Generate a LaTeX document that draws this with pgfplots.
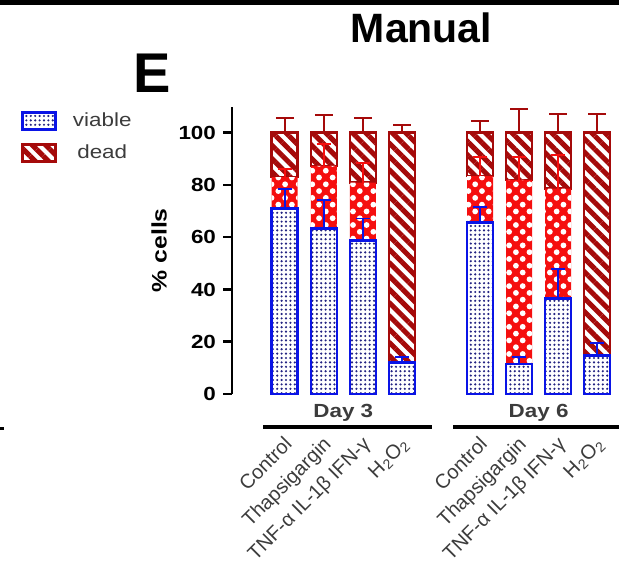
\documentclass[border=0pt]{standalone}
\usepackage{fontspec}
\setmainfont{Liberation Sans}
\newfontfamily\wide{Liberation Sans}[FakeStretch=1.18]
\usepackage{pgfplots}
\pgfplotsset{compat=1.18}
\usetikzlibrary{patterns.meta}
\definecolor{viaBlue}{RGB}{10,20,230}
\definecolor{dotBlue}{RGB}{35,35,130}
\definecolor{apoRed}{RGB}{245,15,15}
\definecolor{deadRed}{RGB}{165,10,10}
\definecolor{lblGray}{RGB}{60,60,60}

\pgfplotsset{
  panel/.style={
    x=19.53pt, y=1.3065pt,
    xmin=-1.35, xmax=8.56, ymin=0, ymax=110,
    at={(116pt,92pt)}, anchor=south west,
    clip=false,
  },
  viable/.style={draw=viaBlue, line width=1.25pt,
    pattern={Dots[distance=2.2pt, radius=0.6pt]}, pattern color=dotBlue},
  apo/.style={fill=apoRed, draw=none,
    postaction={pattern={Dots[distance=4.8pt, radius=1.45pt, angle=45]}, pattern color=white}},
  dead/.style={draw=deadRed, line width=1.25pt,
    pattern={Lines[angle=-45, distance=4.7pt, line width=2.5pt]}, pattern color=deadRed},
}

\begin{document}
\begin{tikzpicture}
\path[use as bounding box] (0,0) rectangle (309.5pt,289pt);
\fill[black] (0,286.5pt) rectangle (309.5pt,289pt);
\draw[black, line width=1.5pt] (0,75pt) -- (2pt,75pt);
\node[font=\bfseries\fontsize{28}{30}\selectfont] at (76pt,252.5pt) {E};
\node[font=\bfseries\fontsize{20.5}{24}\selectfont] at (210.75pt,275pt) {Manual};

% stacked bars: viable, apoptotic, dead
\begin{axis}[panel,
  ybar stacked, bar width=13pt,
  axis y line*=left, axis x line*=bottom,
  x axis line style={draw=none},
  y axis line style={line width=1.25pt},
  tick align=outside,
  major tick length=4.5pt,
  ytick={0,20,...,100},
  ytick style={line width=1.25pt, black},
  xtick style={draw=none},
  /pgf/number format/assume math mode=true,
  yticklabel style={font=\wide\bfseries\fontsize{9.5}{12}\selectfont},
  xtick={0,1,2,3,5,6,7,8},
  xticklabels={Control,Thapsigargin,TNF-α IL-1β IFN-γ,H\textsubscript{2}O\textsubscript{2},
               Control,Thapsigargin,TNF-α IL-1β IFN-γ,H\textsubscript{2}O\textsubscript{2}},
  xticklabel style={rotate=45, anchor=north east, inner sep=0pt,
    font=\fontsize{10}{11}\selectfont, text=lblGray, xshift=-12pt, yshift=-10.6pt},
  ylabel={\% cells},
  ylabel style={font=\wide\bfseries\fontsize{10.5}{13}\selectfont,
    at={(axis description cs:-0.15,0.5)}, anchor=south},
]
\addplot[viable] coordinates {
  (0,71.0) (1,63.4) (2,58.7) (3,12.1) (5,65.7) (6,11.4) (7,36.6) (8,14.7)};
\addplot[apo] coordinates {
  (0,12.0) (1,23.9) (2,22.2) (3,0) (5,17.7) (6,70.5) (7,42.0) (8,0)};
\addplot[dead] coordinates {
  (0,17.0) (1,12.7) (2,19.1) (3,87.9) (5,16.6) (6,18.1) (7,21.4) (8,85.3)};

\draw[line width=2pt] (axis cs:-0.556,-12.6) -- (axis cs:3.77,-12.6);
\draw[line width=2pt] (axis cs:4.31,-12.6) -- (axis cs:8.8,-12.6);
\node[font=\wide\bfseries\fontsize{9.5}{12}\selectfont, text=lblGray] at (axis cs:1.5,-7.3) {Day 3};
\node[font=\wide\bfseries\fontsize{9.5}{12}\selectfont, text=lblGray] at (axis cs:6.5,-7.3) {Day 6};
\end{axis}

% error bars at the stacked tops, and the legend
\begin{axis}[panel, hide axis,
  legend style={at={(axis description cs:-0.545,0.995)}, anchor=north west,
    draw=none, fill=none, inner sep=0pt, row sep=3.7pt,
    /tikz/every odd column/.append style={column sep=6pt},
    font=\wide\fontsize{9.5}{12}\selectfont, text=lblGray},
  legend image code/.code={\draw[#1] (0pt,-4.25pt) rectangle (16.5pt,4.25pt);},
]
\addlegendimage{viable}
\addlegendentry{viable}
\addlegendimage{dead}
\addlegendentry{dead}

\addplot[draw=none, forget plot, error bars/.cd, y dir=plus, y explicit,
  error bar style={draw=viaBlue, line width=0.9pt},
  error mark options={rotate=90, draw=viaBlue, line width=0.9pt, mark size=3.6pt}]
coordinates {
  (0,71.0) +- (0,7.4) (1,63.4) +- (0,10.7) (2,58.7) +- (0,8.5) (3,12.1) +- (0,2.2)
  (5,65.7) +- (0,6.0) (6,11.4) +- (0,2.9) (7,36.6) +- (0,11.2) (8,14.7) +- (0,4.7)};
\addplot[draw=none, forget plot, error bars/.cd, y dir=plus, y explicit,
  error bar style={draw=apoRed, line width=0.9pt},
  error mark options={rotate=90, draw=apoRed, line width=0.9pt, mark size=3.6pt}]
coordinates {
  (0,83.0) +- (0,3.0) (1,87.3) +- (0,8.3) (2,80.9) +- (0,7.6)
  (5,83.4) +- (0,7.4) (6,81.9) +- (0,8.9) (7,78.6) +- (0,12.9)};
\addplot[draw=none, forget plot, error bars/.cd, y dir=plus, y explicit,
  error bar style={draw=deadRed, line width=1pt},
  error mark options={rotate=90, draw=deadRed, line width=1pt, mark size=4.4pt}]
coordinates {
  (0,100) +- (0,5.5) (1,100) +- (0,6.8) (2,100) +- (0,5.5) (3,100) +- (0,3.0)
  (5,100) +- (0,4.5) (6,100) +- (0,9.0) (7,100) +- (0,7.0) (8,100) +- (0,7.0)};
\end{axis}
\end{tikzpicture}
\end{document}
